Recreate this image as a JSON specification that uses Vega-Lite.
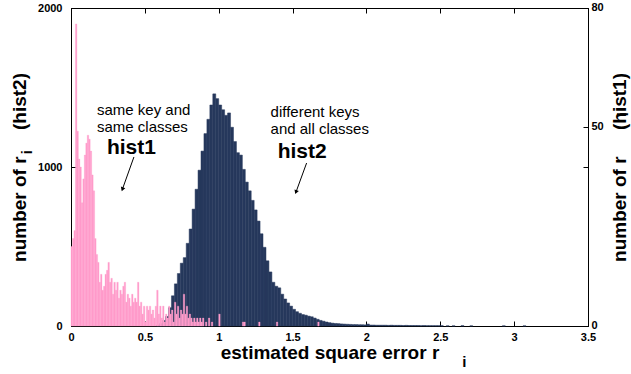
{
  "$schema": "https://vega.github.io/schema/vega-lite/v6.json",
  "autosize": {"type": "none"},
  "width": 517,
  "height": 318,
  "padding": {"left": 71, "top": 8, "right": 43, "bottom": 48},
  "background": "white",
  "config": {
    "font": "Liberation Sans",
    "view": {"stroke": "black", "strokeWidth": 1},
    "axis": {
      "labelFont": "Liberation Sans", "labelFontWeight": "bold", "labelFontSize": 11, "labelColor": "black",
      "titleFont": "Liberation Sans", "titleFontWeight": "bold", "titleFontSize": 19, "titleColor": "black",
      "grid": false, "domainColor": "black", "tickColor": "black", "tickSize": -5, "labelFlush": false, "labelOverlap": false
    }
  },
  "datasets": {
    "hist2": [
      {"lo":0.58,"hi":0.60,"n":5},{"lo":0.60,"hi":0.62,"n":15},{"lo":0.62,"hi":0.64,"n":35},{"lo":0.64,"hi":0.66,"n":60},
      {"lo":0.66,"hi":0.68,"n":115},{"lo":0.68,"hi":0.70,"n":190},{"lo":0.70,"hi":0.72,"n":265},{"lo":0.72,"hi":0.74,"n":330},
      {"lo":0.74,"hi":0.76,"n":395},{"lo":0.76,"hi":0.78,"n":430},{"lo":0.78,"hi":0.80,"n":520},{"lo":0.80,"hi":0.82,"n":610},
      {"lo":0.82,"hi":0.84,"n":735},{"lo":0.84,"hi":0.86,"n":860},{"lo":0.86,"hi":0.88,"n":980},{"lo":0.88,"hi":0.90,"n":1100},
      {"lo":0.90,"hi":0.92,"n":1210},{"lo":0.92,"hi":0.94,"n":1300},{"lo":0.94,"hi":0.96,"n":1390},{"lo":0.96,"hi":0.98,"n":1460},
      {"lo":0.98,"hi":1.00,"n":1430},{"lo":1.00,"hi":1.02,"n":1390},{"lo":1.02,"hi":1.04,"n":1360},{"lo":1.04,"hi":1.06,"n":1325},
      {"lo":1.06,"hi":1.08,"n":1340},{"lo":1.08,"hi":1.10,"n":1250},{"lo":1.10,"hi":1.12,"n":1160},{"lo":1.12,"hi":1.14,"n":1090},
      {"lo":1.14,"hi":1.16,"n":1075},{"lo":1.16,"hi":1.18,"n":985},{"lo":1.18,"hi":1.20,"n":905},{"lo":1.20,"hi":1.22,"n":850},
      {"lo":1.22,"hi":1.24,"n":790},{"lo":1.24,"hi":1.26,"n":730},{"lo":1.26,"hi":1.28,"n":660},{"lo":1.28,"hi":1.30,"n":580},
      {"lo":1.30,"hi":1.32,"n":495},{"lo":1.32,"hi":1.34,"n":410},{"lo":1.34,"hi":1.36,"n":340},{"lo":1.36,"hi":1.38,"n":275},
      {"lo":1.38,"hi":1.40,"n":250},{"lo":1.40,"hi":1.42,"n":240},{"lo":1.42,"hi":1.44,"n":200},{"lo":1.44,"hi":1.46,"n":170},
      {"lo":1.46,"hi":1.48,"n":145},{"lo":1.48,"hi":1.50,"n":125},{"lo":1.50,"hi":1.52,"n":105},{"lo":1.52,"hi":1.54,"n":90},
      {"lo":1.54,"hi":1.56,"n":80},{"lo":1.56,"hi":1.58,"n":72},{"lo":1.58,"hi":1.60,"n":68},{"lo":1.60,"hi":1.62,"n":62},
      {"lo":1.62,"hi":1.64,"n":58},{"lo":1.64,"hi":1.66,"n":50},{"lo":1.66,"hi":1.68,"n":42},{"lo":1.68,"hi":1.70,"n":35},
      {"lo":1.70,"hi":1.72,"n":30},{"lo":1.72,"hi":1.74,"n":25},{"lo":1.74,"hi":1.76,"n":21},{"lo":1.76,"hi":1.78,"n":18},
      {"lo":1.78,"hi":1.80,"n":16},{"lo":1.80,"hi":1.82,"n":15},{"lo":1.82,"hi":1.84,"n":13},{"lo":1.84,"hi":1.86,"n":12},
      {"lo":1.86,"hi":1.88,"n":11},{"lo":1.88,"hi":1.90,"n":10},{"lo":1.90,"hi":1.92,"n":9},{"lo":1.92,"hi":1.94,"n":9},
      {"lo":1.94,"hi":1.96,"n":8},{"lo":1.96,"hi":1.98,"n":8},{"lo":1.98,"hi":2.00,"n":7},{"lo":2.00,"hi":2.02,"n":12},
      {"lo":2.02,"hi":2.04,"n":6},{"lo":2.04,"hi":2.06,"n":6},{"lo":2.06,"hi":2.08,"n":5},{"lo":2.08,"hi":2.10,"n":5},
      {"lo":2.10,"hi":2.12,"n":5},{"lo":2.12,"hi":2.14,"n":5},{"lo":2.14,"hi":2.16,"n":4},{"lo":2.16,"hi":2.18,"n":5},
      {"lo":2.18,"hi":2.20,"n":4},{"lo":2.20,"hi":2.22,"n":4},{"lo":2.22,"hi":2.24,"n":4},{"lo":2.24,"hi":2.26,"n":3},
      {"lo":2.26,"hi":2.28,"n":4},{"lo":2.28,"hi":2.30,"n":3},{"lo":2.30,"hi":2.32,"n":3},{"lo":2.32,"hi":2.34,"n":3},
      {"lo":2.34,"hi":2.36,"n":3},{"lo":2.36,"hi":2.38,"n":2},{"lo":2.38,"hi":2.40,"n":3},{"lo":2.40,"hi":2.42,"n":2},
      {"lo":2.42,"hi":2.44,"n":2},{"lo":2.44,"hi":2.46,"n":2},{"lo":2.46,"hi":2.48,"n":2},{"lo":2.48,"hi":2.50,"n":2},
      {"lo":2.50,"hi":2.52,"n":2},{"lo":2.54,"hi":2.56,"n":1},{"lo":2.58,"hi":2.60,"n":1},{"lo":2.64,"hi":2.66,"n":2},
      {"lo":2.70,"hi":2.72,"n":1},{"lo":2.92,"hi":2.94,"n":1},{"lo":3.06,"hi":3.08,"n":1}
    ],
    "hist1": [
      {"lo":0.00,"hi":0.01,"n":20},{"lo":0.01,"hi":0.02,"n":22},{"lo":0.02,"hi":0.03,"n":24},{"lo":0.03,"hi":0.04,"n":76},
      {"lo":0.04,"hi":0.05,"n":49},{"lo":0.05,"hi":0.06,"n":42},{"lo":0.06,"hi":0.07,"n":40},{"lo":0.07,"hi":0.08,"n":31},
      {"lo":0.08,"hi":0.09,"n":37},{"lo":0.09,"hi":0.10,"n":43},{"lo":0.10,"hi":0.11,"n":46},{"lo":0.11,"hi":0.12,"n":48},
      {"lo":0.12,"hi":0.13,"n":47},{"lo":0.13,"hi":0.14,"n":44},{"lo":0.14,"hi":0.15,"n":38},{"lo":0.15,"hi":0.16,"n":34},
      {"lo":0.16,"hi":0.17,"n":22},{"lo":0.17,"hi":0.18,"n":18},{"lo":0.18,"hi":0.19,"n":16},{"lo":0.19,"hi":0.20,"n":11},
      {"lo":0.20,"hi":0.21,"n":13},{"lo":0.21,"hi":0.22,"n":9},{"lo":0.22,"hi":0.23,"n":10},{"lo":0.23,"hi":0.24,"n":13},
      {"lo":0.24,"hi":0.25,"n":14},{"lo":0.25,"hi":0.26,"n":16},{"lo":0.26,"hi":0.27,"n":11},{"lo":0.27,"hi":0.28,"n":12},
      {"lo":0.28,"hi":0.29,"n":8},{"lo":0.29,"hi":0.30,"n":11},{"lo":0.30,"hi":0.31,"n":9},{"lo":0.31,"hi":0.32,"n":11},
      {"lo":0.32,"hi":0.33,"n":7},{"lo":0.33,"hi":0.34,"n":9},{"lo":0.34,"hi":0.35,"n":8},{"lo":0.35,"hi":0.36,"n":10},
      {"lo":0.36,"hi":0.37,"n":11},{"lo":0.37,"hi":0.38,"n":6},{"lo":0.38,"hi":0.39,"n":8},{"lo":0.39,"hi":0.40,"n":7},
      {"lo":0.40,"hi":0.41,"n":5},{"lo":0.41,"hi":0.42,"n":8},{"lo":0.42,"hi":0.43,"n":6},{"lo":0.43,"hi":0.44,"n":7},
      {"lo":0.44,"hi":0.45,"n":6},{"lo":0.45,"hi":0.46,"n":11},{"lo":0.46,"hi":0.47,"n":5},{"lo":0.47,"hi":0.48,"n":6},
      {"lo":0.48,"hi":0.49,"n":3},{"lo":0.49,"hi":0.50,"n":5},{"lo":0.50,"hi":0.51,"n":1},{"lo":0.51,"hi":0.52,"n":5},
      {"lo":0.52,"hi":0.53,"n":4},{"lo":0.53,"hi":0.54,"n":5},{"lo":0.54,"hi":0.55,"n":3},{"lo":0.55,"hi":0.56,"n":4},
      {"lo":0.56,"hi":0.57,"n":2},{"lo":0.57,"hi":0.58,"n":5},{"lo":0.58,"hi":0.59,"n":9},{"lo":0.59,"hi":0.60,"n":3},
      {"lo":0.60,"hi":0.61,"n":5},{"lo":0.61,"hi":0.62,"n":2},{"lo":0.62,"hi":0.63,"n":5},{"lo":0.63,"hi":0.64,"n":1},
      {"lo":0.64,"hi":0.65,"n":3},{"lo":0.65,"hi":0.66,"n":2},{"lo":0.66,"hi":0.67,"n":5},{"lo":0.67,"hi":0.68,"n":3},
      {"lo":0.68,"hi":0.69,"n":4},{"lo":0.69,"hi":0.70,"n":1},{"lo":0.70,"hi":0.71,"n":6},{"lo":0.71,"hi":0.72,"n":3},
      {"lo":0.72,"hi":0.73,"n":5},{"lo":0.73,"hi":0.74,"n":2},{"lo":0.74,"hi":0.75,"n":4},{"lo":0.75,"hi":0.76,"n":3},
      {"lo":0.76,"hi":0.77,"n":8},{"lo":0.77,"hi":0.78,"n":3},{"lo":0.78,"hi":0.79,"n":5},{"lo":0.79,"hi":0.80,"n":2},
      {"lo":0.80,"hi":0.81,"n":3},{"lo":0.81,"hi":0.82,"n":2},{"lo":0.82,"hi":0.83,"n":1},{"lo":0.83,"hi":0.84,"n":2},
      {"lo":0.84,"hi":0.85,"n":1},{"lo":0.85,"hi":0.86,"n":2},{"lo":0.86,"hi":0.87,"n":1},{"lo":0.87,"hi":0.88,"n":2},
      {"lo":0.88,"hi":0.89,"n":1},{"lo":0.89,"hi":0.90,"n":2},{"lo":0.91,"hi":0.92,"n":1},{"lo":0.93,"hi":0.94,"n":2},
      {"lo":0.95,"hi":0.96,"n":1},{"lo":1.00,"hi":1.01,"n":3},{"lo":1.16,"hi":1.17,"n":1},{"lo":1.17,"hi":1.18,"n":1},
      {"lo":1.27,"hi":1.28,"n":1},{"lo":1.39,"hi":1.40,"n":1},{"lo":1.67,"hi":1.68,"n":1}
    ],
    "notes": [
      {"x":0.176,"y":1358,"t":"same key and"},
      {"x":0.176,"y":1252,"t":"same classes"},
      {"x":1.351,"y":1346,"t":"different keys"},
      {"x":1.351,"y":1239,"t":"and all classes"}
    ],
    "bignotes": [
      {"x":0.243,"y":1119,"t":"hist1"},
      {"x":1.399,"y":1094,"t":"hist2"}
    ],
    "arrows": [
      {"x":0.426,"y":1063,"x2":0.348,"y2":860},
      {"x":1.595,"y":1025,"x2":1.523,"y2":842}
    ],
    "subs": [
      {"x":2.662,"y":-226,"t":"i","a":0},
      {"x":-0.297,"y":1094,"t":"i","a":270},
      {"x":3.736,"y":1333,"t":"i","a":270}
    ]
  },
  "resolve": {"scale": {"x": "independent", "y": "independent"}, "axis": {"x": "independent", "y": "independent"}},
  "layer": [
    {
      "data": {"name": "hist2"},
      "mark": {"type": "bar", "color": "#26385c", "binSpacing": 0, "stroke": "#26385c", "strokeWidth": 0.5},
      "encoding": {
        "x": {"field": "lo", "type": "quantitative", "scale": {"domain": [0, 3.5], "nice": false},
              "axis": {"orient": "bottom", "values": [0,0.5,1,1.5,2,2.5,3,3.5], "format": "~g", "labelPadding": 10, "title": "estimated square error r", "titlePadding": 1}},
        "x2": {"field": "hi"},
        "y": {"field": "n", "type": "quantitative", "scale": {"domain": [0, 2000], "nice": false},
              "axis": {"orient": "left", "values": [0,1000,2000], "format": "d", "labelPadding": 14, "title": "number of r\u00a0\u00a0\u00a0\u00a0\u00a0(hist2)", "titlePadding": 8}},
        "y2": {"datum": 0}
      }
    },
    {
      "data": {"name": "hist1"},
      "mark": {"type": "bar", "color": "#ff9ccb", "binSpacing": 0, "stroke": "#ff9ccb", "strokeWidth": 0.3},
      "encoding": {
        "x": {"field": "lo", "type": "quantitative", "scale": {"domain": [0, 3.5], "nice": false},
              "axis": {"orient": "top", "values": [0,0.5,1,1.5,2,2.5,3,3.5], "labels": false, "title": null}},
        "x2": {"field": "hi"},
        "y": {"field": "n", "type": "quantitative", "scale": {"domain": [0, 80], "nice": false},
              "axis": {"orient": "right", "values": [0,40,50,80], "labelExpr": "datum.value == 40 ? '' : datum.label", "labelPadding": 8, "labelOffset": -1, "title": "number of r\u00a0\u00a0\u00a0\u00a0\u00a0(hist1)", "titleAngle": 270, "titleBaseline": "top", "titlePadding": 7}},
        "y2": {"datum": 0}
      }
    },
    {
      "data": {"name": "notes"},
      "mark": {"type": "text", "align": "left", "baseline": "middle", "fontSize": 15, "font": "Liberation Sans", "color": "black"},
      "encoding": {
        "x": {"field": "x", "type": "quantitative", "scale": {"domain": [0, 3.5], "nice": false}, "axis": null},
        "y": {"field": "y", "type": "quantitative", "scale": {"domain": [0, 2000], "nice": false}, "axis": null},
        "text": {"field": "t"}
      }
    },
    {
      "data": {"name": "bignotes"},
      "mark": {"type": "text", "align": "left", "baseline": "middle", "fontSize": 21, "fontWeight": "bold", "font": "Liberation Sans", "color": "black"},
      "encoding": {
        "x": {"field": "x", "type": "quantitative", "scale": {"domain": [0, 3.5], "nice": false}, "axis": null},
        "y": {"field": "y", "type": "quantitative", "scale": {"domain": [0, 2000], "nice": false}, "axis": null},
        "text": {"field": "t"}
      }
    },
    {
      "data": {"name": "arrows"},
      "mark": {"type": "rule", "color": "black", "strokeWidth": 1},
      "encoding": {
        "x": {"field": "x", "type": "quantitative", "scale": {"domain": [0, 3.5], "nice": false}, "axis": null},
        "y": {"field": "y", "type": "quantitative", "scale": {"domain": [0, 2000], "nice": false}, "axis": null},
        "x2": {"field": "x2"},
        "y2": {"field": "y2"}
      }
    },
    {
      "data": {"name": "arrows"},
      "mark": {"type": "point", "shape": "triangle-up", "filled": true, "color": "black", "size": 22, "angle": 200, "opacity": 1},
      "encoding": {
        "x": {"field": "x2", "type": "quantitative", "scale": {"domain": [0, 3.5], "nice": false}, "axis": null},
        "y": {"field": "y2", "type": "quantitative", "scale": {"domain": [0, 2000], "nice": false}, "axis": null}
      }
    },
    {
      "data": {"name": "subs"},
      "mark": {"type": "text", "align": "center", "baseline": "middle", "fontSize": 15, "fontWeight": "bold", "font": "Liberation Sans", "color": "black"},
      "encoding": {
        "x": {"field": "x", "type": "quantitative", "scale": {"domain": [0, 3.5], "nice": false}, "axis": null},
        "y": {"field": "y", "type": "quantitative", "scale": {"domain": [0, 2000], "nice": false}, "axis": null},
        "angle": {"field": "a", "type": "quantitative", "scale": null},
        "text": {"field": "t"}
      }
    }
  ]
}
